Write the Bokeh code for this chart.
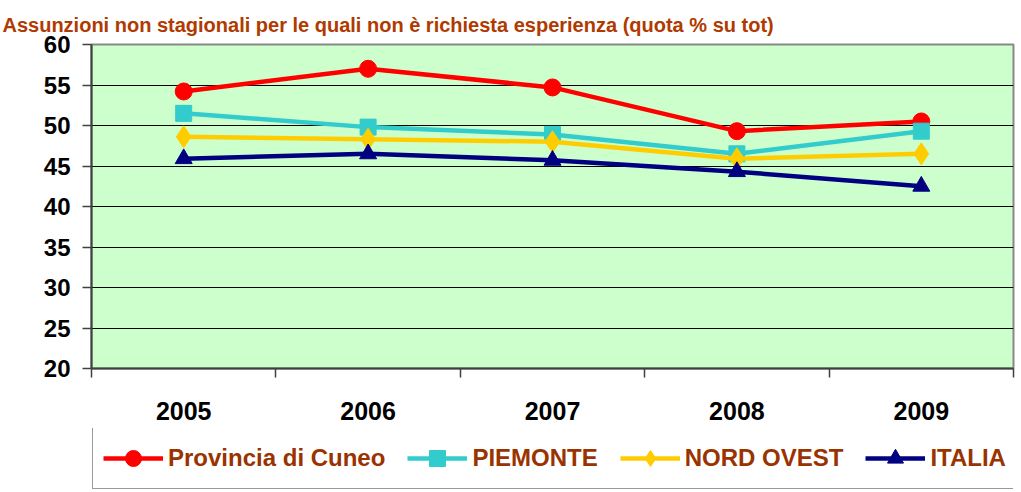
from bokeh.plotting import figure
from bokeh.models import (Range1d, FixedTicker, Legend, LegendItem, Title,
                          ColumnDataSource)
from bokeh.layouts import column
from bokeh.embed import file_html
from bokeh.resources import INLINE

title_text = "Assunzioni non stagionali per le quali non è richiesta esperienza (quota % su tot)"
years = ["2005", "2006", "2007", "2008", "2009"]
cuneo = [54.2, 57.0, 54.7, 49.3, 50.5]
piemonte = [51.5, 49.8, 48.9, 46.5, 49.3]
nord_ovest = [48.6, 48.3, 48.0, 45.9, 46.5]
italia = [45.9, 46.5, 45.7, 44.3, 42.5]
y_ticks = [20, 25, 30, 35, 40, 45, 50, 55, 60]

series = [
    ("Provincia di Cuneo", cuneo, "#FF0000", "circle", 17),
    ("PIEMONTE", piemonte, "#33CCCC", "square", 16),
    ("NORD OVEST", nord_ovest, "#FFCC00", "diamond", 22),
    ("ITALIA", italia, "#000080", "triangle", 17),
]

FONT = "Liberation Sans"
xs = [i + 0.5 for i in range(len(years))]

p = figure(width=1021, height=428, output_backend="svg", toolbar_location=None,
           x_range=Range1d(0, len(years)), y_range=Range1d(20, 60),
           min_border_left=91, min_border_right=8, min_border_top=44,
           min_border_bottom=60, background_fill_color="#CCFFCC",
           border_fill_color="white")

p.outline_line_color = "#888888"
p.outline_line_width = 2

# x axis
xa = p.xaxis[0]
xa.ticker = FixedTicker(ticks=xs, minor_ticks=list(range(len(years) + 1)))
xa.major_label_overrides = {x: y for x, y in zip(xs, years)}
xa.major_tick_line_color = None
xa.major_tick_out = 0
xa.major_tick_in = 0
xa.minor_tick_out = 9
xa.minor_tick_in = 0
xa.minor_tick_line_color = "#404040"
xa.minor_tick_line_width = 1.5
xa.axis_line_color = "#404040"
xa.axis_line_width = 2
xa.major_label_text_font = FONT
xa.major_label_text_font_style = "bold"
xa.major_label_text_font_size = "25px"
xa.major_label_text_color = "black"
xa.major_label_standoff = 24

# y axis
ya = p.yaxis[0]
ya.ticker = FixedTicker(ticks=y_ticks)
ya.minor_tick_line_color = None
ya.major_tick_out = 9
ya.major_tick_in = 0
ya.major_tick_line_color = "#404040"
ya.major_tick_line_width = 1.5
ya.axis_line_color = "#404040"
ya.axis_line_width = 2
ya.major_label_text_font = FONT
ya.major_label_text_font_style = "bold"
ya.major_label_text_font_size = "24px"
ya.major_label_text_color = "black"
ya.major_label_standoff = 12

p.xgrid.visible = False
p.ygrid.ticker = FixedTicker(ticks=y_ticks[1:-1])
p.ygrid.grid_line_color = "black"
p.ygrid.grid_line_width = 1

p.add_layout(Title(text=title_text, align="left", offset=-89, standoff=18,
                   text_font=FONT, text_font_style="bold",
                   text_font_size="20px", text_color="#B03A00"), "above")

# legend strip: a second figure below the chart
pl = figure(width=1021, height=64, output_backend="svg", toolbar_location=None,
            x_range=Range1d(-20, -19), y_range=Range1d(-20, -19),
            x_axis_location=None, y_axis_location=None,
            min_border=0, border_fill_color="white", background_fill_color="white")
pl.outline_line_color = None
pl.grid.visible = False

items = []
for name, vals, color, marker, size in series:
    src = ColumnDataSource(dict(x=xs, y=vals))
    p.line("x", "y", source=src, line_color=color, line_width=4.5)
    p.scatter("x", "y", source=src, marker=marker, size=size,
              fill_color=color, line_color=color)
    # same series in the legend strip (outside its visible range) for the key
    l1 = pl.line("x", "y", source=src, line_color=color, line_width=4.5)
    l2 = pl.scatter("x", "y", source=src, marker=marker, size=size,
                    fill_color=color, line_color=color)
    items.append(LegendItem(label=name, renderers=[l1, l2]))

legend = Legend(items=items, orientation="horizontal", location=(1, 3),
                glyph_width=60, glyph_height=40, label_standoff=5, spacing=22,
                padding=10, margin=0, label_height=40,
                label_text_font=FONT, label_text_font_style="bold",
                label_text_font_size="24px", label_text_color="#993300",
                border_line_color="#333333", border_line_width=1.5,
                background_fill_color="white")
pl.add_layout(legend, "center")

layout = column(p, pl, spacing=0)

open("out.html", "w").write(file_html(layout, INLINE))
